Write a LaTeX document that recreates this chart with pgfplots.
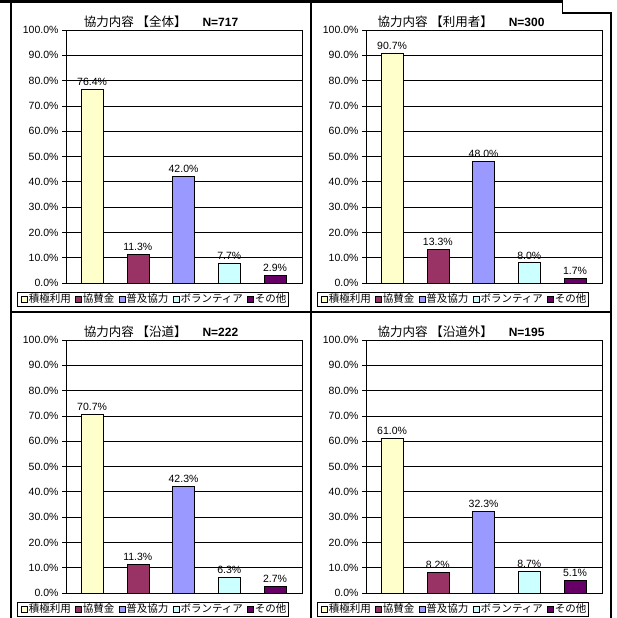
\documentclass[border=0pt]{standalone}
\usepackage{fontspec}
\setmainfont{Liberation Sans}
\newfontfamily\cjk{Noto Sans CJK JP}
\usepackage{pgfplots}
\pgfplotsset{compat=1.18}

\definecolor{cYellow}{HTML}{FFFFCC}
\definecolor{cPlum}{HTML}{993366}
\definecolor{cPeri}{HTML}{9999FF}
\definecolor{cCyan}{HTML}{CCFFFF}
\definecolor{cPurple}{HTML}{660066}

\pgfplotsset{
  panel/.style={
    scale only axis, width=236pt, height=253pt,
    anchor=south west,
    ybar, bar width=22pt,
    xmin=0.43, xmax=5.59, ymin=0, ymax=100,
    xtick=\empty, ytick={0,10,...,100},
    yticklabel={\pgfmathprintnumber[fixed,fixed zerofill,precision=1]{\tick}\%},
    /pgf/number format/assume math mode=true,
    tick label style={font=\fontsize{10.5}{12}\selectfont},
    ymajorgrids, grid style={black, line width=0.6pt},
    axis line style={black, line width=0.8pt},
    tick align=outside, major tick length=4pt,
    tick style={black, line width=0.6pt},
    ytick pos=left,
    nodes near coords={\pgfmathprintnumber[fixed,fixed zerofill,precision=1]{\pgfplotspointmeta}\%},
    every node near coord/.append style={font=\fontsize{10.5}{12}\selectfont, black},
    legend columns=5,
    legend style={at={(0.367,-0.035)}, anchor=north, draw=black,
      line width=0.5pt, font=\cjk\fontsize{10.5}{12}\selectfont,
      inner sep=1pt, column sep=0pt,
      nodes={inner xsep=1pt, inner ysep=1pt}},
    legend image code/.code={\path (0pt,0pt);
      \draw[#1, line width=0.5pt] (3.5pt,-3pt) rectangle (9.5pt,3pt);},
    clip=false,
  },
  bb/.style={fill=#1, draw=black, line width=0.6pt, bar shift=0pt},
}

\newcommand{\ttl}[2]{{\cjk\fontsize{12.5}{14}\selectfont 協力内容 #1}\hspace{16pt}{\fontsize{12}{14}\selectfont\bfseries N=#2}}
\newcommand{\leg}{\legend{積極利用,協賛金,普及協力,ボランティア,その他}}

\begin{document}
\begin{tikzpicture}
\useasboundingbox (0,0) rectangle (616pt,618pt);

% frame
\draw[line width=3pt] (0,616.5pt) -- (562pt,616.5pt);
\draw[line width=1pt] (562pt,618pt) -- (562pt,605pt);
\draw[line width=1.5pt] (11pt,615pt) -- (11pt,0);
\draw[line width=1.5pt] (311pt,615pt) -- (311pt,0);
\draw[line width=1.5pt] (562pt,605pt) -- (611pt,605pt) -- (611pt,0);
\draw[line width=1.5pt] (11pt,306pt) -- (611pt,306pt);

% titles
\node at (161pt,596pt) {\ttl{【全体】}{717}};
\node at (461pt,596pt) {\ttl{【利用者】}{300}};
\node at (161pt,286pt) {\ttl{【沿道】}{222}};
\node at (461pt,286pt) {\ttl{【沿道外】}{195}};

% 全体
\begin{axis}[panel, at={(66pt,335pt)}]
\addplot[bb=cYellow] coordinates {(1,76.4)};
\addplot[bb=cPlum] coordinates {(2,11.3)};
\addplot[bb=cPeri] coordinates {(3,42.0)};
\addplot[bb=cCyan] coordinates {(4,7.7)};
\addplot[bb=cPurple] coordinates {(5,2.9)};
\leg
\end{axis}

% 利用者
\begin{axis}[panel, at={(366pt,335pt)}]
\addplot[bb=cYellow] coordinates {(1,90.7)};
\addplot[bb=cPlum] coordinates {(2,13.3)};
\addplot[bb=cPeri] coordinates {(3,48.0)};
\addplot[bb=cCyan] coordinates {(4,8.0)};
\addplot[bb=cPurple] coordinates {(5,1.7)};
\leg
\end{axis}

% 沿道
\begin{axis}[panel, at={(66pt,25pt)}]
\addplot[bb=cYellow] coordinates {(1,70.7)};
\addplot[bb=cPlum] coordinates {(2,11.3)};
\addplot[bb=cPeri] coordinates {(3,42.3)};
\addplot[bb=cCyan] coordinates {(4,6.3)};
\addplot[bb=cPurple] coordinates {(5,2.7)};
\leg
\end{axis}

% 沿道外
\begin{axis}[panel, at={(366pt,25pt)}]
\addplot[bb=cYellow] coordinates {(1,61.0)};
\addplot[bb=cPlum] coordinates {(2,8.2)};
\addplot[bb=cPeri] coordinates {(3,32.3)};
\addplot[bb=cCyan] coordinates {(4,8.7)};
\addplot[bb=cPurple] coordinates {(5,5.1)};
\leg
\end{axis}
\end{tikzpicture}
\end{document}
